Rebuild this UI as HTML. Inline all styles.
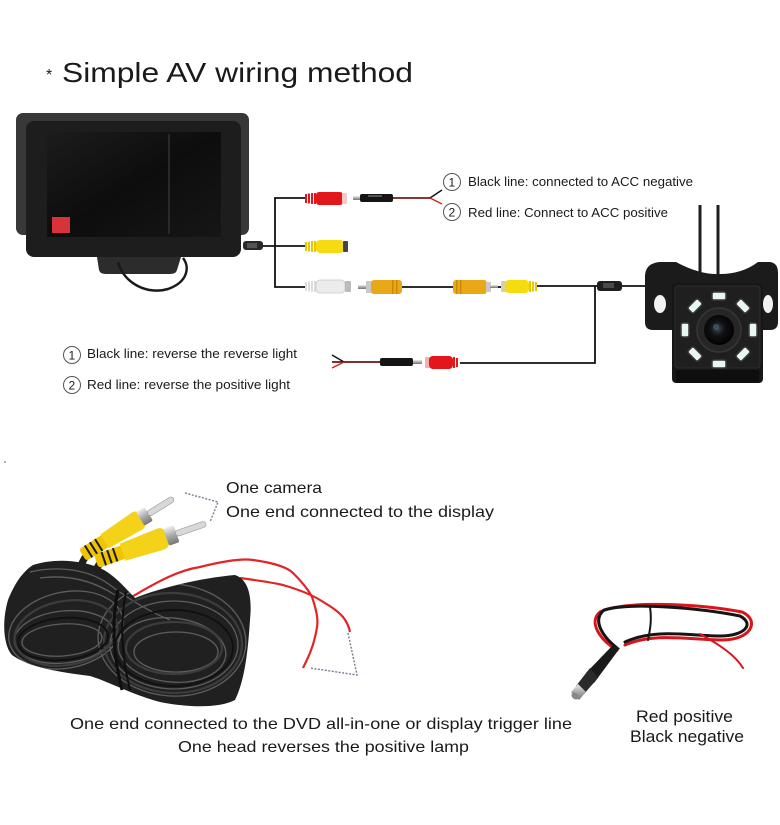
<!DOCTYPE html>
<html><head><meta charset="utf-8"><style>
html,body{margin:0;padding:0;background:#fff;}
svg{display:block;}
text{font-family:"Liberation Sans",sans-serif;fill:#1a1a1a;}
</style></head><body>
<svg width="780" height="825" viewBox="0 0 780 825" xmlns="http://www.w3.org/2000/svg">
<rect width="780" height="825" fill="#fff"/>
<defs>
<linearGradient id="scr" x1="0" y1="0" x2="1" y2="1"><stop offset="0" stop-color="#1c1c1c"/><stop offset="0.5" stop-color="#0d0d0d"/><stop offset="1" stop-color="#161616"/></linearGradient>
<linearGradient id="silver" x1="0" y1="0" x2="0" y2="1"><stop offset="0" stop-color="#eee"/><stop offset="0.5" stop-color="#aaa"/><stop offset="1" stop-color="#777"/></linearGradient>
<radialGradient id="lens" cx="0.45" cy="0.45" r="0.6"><stop offset="0" stop-color="#3a4a5a"/><stop offset="0.4" stop-color="#111"/><stop offset="1" stop-color="#000"/></radialGradient>
<clipPath id="coilclip"><path d="M33,565 C55,558 80,560 100,568 C115,575 125,588 135,598 C160,588 200,578 235,575 C250,580 252,600 250,620 C248,650 245,680 235,700 C220,708 190,708 160,702 C130,694 110,682 90,676 C60,672 30,668 12,655 C3,645 2,620 8,600 C14,585 22,572 33,565 Z"/></clipPath>
</defs>

<!-- title -->
<text x="46" y="80" font-size="16">*</text>
<text x="62" y="82" font-size="28" textLength="351" lengthAdjust="spacingAndGlyphs">Simple AV wiring method</text>

<!-- monitor -->
<rect x="16" y="113" width="233" height="122" rx="7" fill="#383838"/>
<rect x="26" y="121" width="215" height="136" rx="8" fill="#1d1d1d"/>
<rect x="47" y="132" width="174" height="105" fill="url(#scr)"/>
<rect x="168" y="134" width="2" height="100" fill="#2a2a22"/>
<rect x="52" y="217" width="18" height="16" fill="#d8323a"/>
<path d="M97,257 L181,257 L177,270 Q176,274 170,274 L106,274 Q100,274 99,270 Z" fill="#2c2c2c"/>
<path d="M118,262 C124,284 148,295 168,289 C188,282 190,267 183,258" fill="none" stroke="#1a1a1a" stroke-width="2.5"/>
<rect x="243" y="241" width="20" height="9" rx="3" fill="#2a2a2a"/>
<rect x="247" y="243" width="10" height="5" fill="#555"/>

<!-- wiring lines -->
<g stroke="#111" stroke-width="1.8" fill="none">
<path d="M263,246 L305,246"/>
<path d="M305,198 L275,198 L275,287 L305,287"/>
<path d="M402,287 L453,287"/>
<path d="M490,287 L502,287"/>
<path d="M537,286 L597,286"/>
<path d="M622,286 L650,286"/>
<path d="M595,286 L595,363 L460,363"/>
</g>
<!-- top: red female, black plug, split wire -->
<g>
<g fill="#e3161c"><rect x="305" y="194" width="2" height="9"/><rect x="308" y="193.5" width="2" height="10"/><rect x="311" y="193" width="2" height="11"/><rect x="314" y="193" width="2" height="11"/></g>
<rect x="316" y="192" width="27" height="13" rx="3" fill="#e3161c"/>
<rect x="342" y="193" width="5" height="11" rx="1" fill="#f5c9c9"/>
<rect x="353" y="196" width="8" height="4" fill="url(#silver)"/>
<rect x="360" y="194" width="33" height="8" rx="2" fill="#151515"/>
<rect x="368" y="195" width="14" height="2" fill="#555"/>
<path d="M393,198 L430,198" stroke="#7a1a1a" stroke-width="1.8"/>
<path d="M430,198 L442,190" stroke="#111" stroke-width="1.4" fill="none"/>
<path d="M430,198 L442,204" stroke="#d21" stroke-width="1.4" fill="none"/>
</g>
<!-- middle yellow female -->
<g>
<g fill="#e6c800"><rect x="305" y="242" width="2" height="9"/><rect x="308" y="241.5" width="2" height="10"/><rect x="311" y="241" width="2" height="11"/><rect x="314" y="241" width="2" height="11"/></g>
<rect x="316" y="240" width="28" height="13" rx="4" fill="#f4dc10"/>
<rect x="343" y="241" width="5" height="11" rx="1" fill="#444"/>
</g>
<!-- bottom white female -->
<g>
<g fill="#ddd"><rect x="305" y="282" width="2" height="9"/><rect x="308" y="281.5" width="2" height="10"/><rect x="311" y="281" width="2" height="11"/><rect x="314" y="281" width="2" height="11"/></g>
<rect x="316" y="280" width="29" height="13" rx="4" fill="#ececec" stroke="#c8c8c8" stroke-width="0.8"/>
<rect x="345" y="281" width="6" height="11" rx="1" fill="#bbb"/>
</g>
<!-- yellow male plug -->
<g>
<rect x="358" y="285" width="9" height="4" fill="url(#silver)"/>
<rect x="366" y="281" width="6" height="12" fill="#c9c9c9"/>
<rect x="371" y="280" width="31" height="14" rx="3" fill="#e9a818"/>
<g fill="#c98a08"><rect x="392" y="280" width="1.5" height="14"/><rect x="396" y="280" width="1.5" height="14"/></g>
</g>
<!-- yellow male plug 2 -->
<g>
<rect x="453" y="280" width="34" height="14" rx="3" fill="#e9a818"/>
<g fill="#c98a08"><rect x="456" y="280" width="1.5" height="14"/><rect x="460" y="280" width="1.5" height="14"/></g>
<rect x="486" y="282" width="5" height="10" fill="#c9c9c9"/>
<rect x="490" y="285" width="8" height="3" fill="url(#silver)"/>
</g>
<!-- yellow female 2 -->
<g>
<rect x="501" y="281" width="5" height="11" rx="1" fill="#d9d0a0"/>
<rect x="505" y="280" width="24" height="13" rx="4" fill="#f4dc10"/>
<g fill="#e6c800"><rect x="529" y="281" width="2" height="11"/><rect x="532" y="281.5" width="2" height="10"/><rect x="535" y="282" width="2" height="9"/></g>
</g>
<!-- black inline connector to camera -->
<rect x="597" y="281" width="25" height="10" rx="3" fill="#1e1e1e"/>
<rect x="603" y="283" width="11" height="5" fill="#4a4a4a"/>
<!-- lower left: red female + black plug -->
<g>
<rect x="425" y="357" width="5" height="11" rx="1" fill="#f0b0b0"/>
<rect x="429" y="356" width="24" height="13" rx="4" fill="#e3161c"/>
<g fill="#e3161c"><rect x="453" y="357" width="2" height="11"/><rect x="456" y="358" width="2" height="9"/></g>
<rect x="412" y="360" width="10" height="4" fill="url(#silver)"/>
<rect x="380" y="358" width="33" height="8" rx="2" fill="#151515"/>
<path d="M332,362 L380,362" stroke="#6a1414" stroke-width="1.8"/>
<path d="M344,362 L332,355" stroke="#111" stroke-width="1.4" fill="none"/>
<path d="M344,362 L332,368" stroke="#d21" stroke-width="1.4" fill="none"/>
</g>

<!-- top right labels -->
<circle cx="452" cy="182" r="8.5" fill="none" stroke="#555" stroke-width="1"/>
<text x="448.5" y="186.5" font-size="12">1</text>
<text x="468" y="186" font-size="12.5" textLength="225" lengthAdjust="spacingAndGlyphs">Black line: connected to ACC negative</text>
<circle cx="452" cy="212" r="8.5" fill="none" stroke="#555" stroke-width="1"/>
<text x="448.5" y="216.5" font-size="12">2</text>
<text x="468" y="217" font-size="12.5" textLength="200" lengthAdjust="spacingAndGlyphs">Red line: Connect to ACC positive</text>

<!-- left labels -->
<circle cx="72" cy="355" r="8.5" fill="none" stroke="#555" stroke-width="1"/>
<text x="68.5" y="359.5" font-size="12">1</text>
<text x="87" y="358" font-size="12.5" textLength="210" lengthAdjust="spacingAndGlyphs">Black line: reverse the reverse light</text>
<circle cx="72" cy="385" r="8.5" fill="none" stroke="#555" stroke-width="1"/>
<text x="68.5" y="389.5" font-size="12">2</text>
<text x="87" y="389" font-size="12.5" textLength="203" lengthAdjust="spacingAndGlyphs">Red line: reverse the positive light</text>

<!-- camera -->
<line x1="700" y1="205" x2="700" y2="275" stroke="#1e1e1e" stroke-width="3"/>
<line x1="718" y1="205" x2="718" y2="275" stroke="#1e1e1e" stroke-width="3"/>
<path d="M645,275 Q646,263 660,262 L676,262 Q700,275 720,274 Q742,274 758,262 L770,262 Q778,263 778,273 L778,322 Q778,330 770,330 L653,330 Q645,330 645,322 Z" fill="#1b1b1b"/>
<ellipse cx="660" cy="304" rx="6" ry="9" fill="#f2f2f2"/>
<ellipse cx="768" cy="304" rx="5" ry="9" fill="#f2f2f2"/>
<rect x="672" y="283" width="91" height="100" rx="4" fill="#171717"/>
<rect x="675" y="286" width="85" height="82" rx="3" fill="#1f1f1f" stroke="#2e2e2e" stroke-width="1"/>
<rect x="676" y="370" width="83" height="13" rx="2" fill="#0e0e0e"/>
<circle cx="719" cy="330" r="22" fill="#262626" stroke="#363636" stroke-width="1.5"/>
<circle cx="719" cy="330" r="15" fill="url(#lens)"/>
<circle cx="716" cy="327" r="3" fill="#4a5a6a" opacity="0.7"/>
<g fill="#e8f7f2" stroke="#3a3a3a" stroke-width="1.5">
<rect x="712" y="292" width="14" height="8" rx="2"/>
<rect x="712" y="360" width="14" height="8" rx="2"/>
<rect x="681" y="323" width="8" height="14" rx="2"/>
<rect x="749" y="323" width="8" height="14" rx="2"/>
<rect x="688" y="302" width="14" height="8" rx="2" transform="rotate(-45 695 306)"/>
<rect x="736" y="302" width="14" height="8" rx="2" transform="rotate(45 743 306)"/>
<rect x="688" y="350" width="14" height="8" rx="2" transform="rotate(45 695 354)"/>
<rect x="736" y="350" width="14" height="8" rx="2" transform="rotate(-45 743 354)"/>
</g>

<!-- tiny dot -->
<circle cx="5" cy="462" r="1" fill="#999"/>

<!-- red wires -->
<g fill="none" stroke="#e22424" stroke-width="2.2">
<path d="M130,598 C160,580 180,570 200,567 C220,562 240,558 253,560 C275,563 288,568 293,573 C305,585 312,595 313,600 C318,615 318,622 317,627 C315,640 312,648 310,653 C307,660 305,664 303,668"/>
<path d="M240,578 C255,580 270,582 283,585 C300,590 312,595 320,600 C330,606 338,611 343,617 C347,622 349,627 350,632"/>
</g>

<!-- cables up to plugs -->
<path d="M86,556 C80,565 78,572 80,585" stroke="#1e1e1e" stroke-width="7" fill="none"/>
<path d="M100,563 C94,572 92,580 95,592" stroke="#1e1e1e" stroke-width="7" fill="none"/>

<!-- lower cable coil -->
<path d="M33,565 C55,558 80,560 100,568 C115,575 125,588 135,598 C160,588 200,578 235,575 C250,580 252,600 250,620 C248,650 245,680 235,700 C220,708 190,708 160,702 C130,694 110,682 90,676 C60,672 30,668 12,655 C3,645 2,620 8,600 C14,585 22,572 33,565 Z" fill="#202020"/>
<g clip-path="url(#coilclip)" fill="none">
<g stroke="#5e5e5e" stroke-width="1.3">
<ellipse cx="66" cy="630" rx="58" ry="38" transform="rotate(-12 66 630)"/>
<ellipse cx="64" cy="637" rx="50" ry="26" transform="rotate(-6 64 637)"/>
<ellipse cx="62" cy="640" rx="40" ry="16" transform="rotate(-4 62 640)"/>
<ellipse cx="172" cy="640" rx="74" ry="56" transform="rotate(4 172 640)"/>
<ellipse cx="174" cy="645" rx="64" ry="44"/>
<ellipse cx="172" cy="650" rx="54" ry="32" transform="rotate(6 172 650)"/>
<ellipse cx="176" cy="652" rx="42" ry="20"/>
<path d="M30,572 C60,565 90,570 110,585 C130,600 150,612 170,620"/>
<path d="M40,578 C70,574 95,582 115,595"/>
</g>
<g stroke="#3c3c3c" stroke-width="2.2">
<ellipse cx="66" cy="633" rx="52" ry="32" transform="rotate(-10 66 633)"/>
<ellipse cx="173" cy="643" rx="69" ry="50" transform="rotate(2 173 643)"/>
<ellipse cx="174" cy="648" rx="48" ry="26"/>
</g>
<g stroke="#111" stroke-width="2">
<ellipse cx="63" cy="639" rx="45" ry="21" transform="rotate(-5 63 639)"/>
<ellipse cx="174" cy="648" rx="59" ry="38"/>
</g>
</g>
<path d="M118,590 C112,620 112,650 122,690" stroke="#0e0e0e" stroke-width="3" fill="none"/>
<path d="M126,592 C120,622 121,652 130,690" stroke="#0e0e0e" stroke-width="2" fill="none"/>

<!-- RCA plugs (photo) -->
<g transform="translate(86,553) rotate(-32)">
<rect x="-4" y="-7" width="28" height="14" rx="3" fill="#f0c400"/>
<g fill="#1a1a1a"><rect x="2" y="-7" width="2" height="14"/><rect x="8" y="-7" width="2" height="14"/><rect x="14" y="-7" width="2" height="14"/></g>
<path d="M22,-8 L60,-10 Q66,-10 66,-4 L66,4 Q66,10 60,10 L22,8 Z" fill="#f5d21a"/>
<rect x="64" y="-8" width="10" height="16" rx="2" fill="url(#silver)"/>
<rect x="73" y="-3" width="30" height="6" rx="3" fill="#d8d8d8" stroke="#999" stroke-width="0.6"/>
</g>
<g transform="translate(100,560) rotate(-19)">
<rect x="-4" y="-7" width="30" height="14" rx="3" fill="#f0c400"/>
<g fill="#1a1a1a"><rect x="3" y="-7" width="2" height="14"/><rect x="9" y="-7" width="2" height="14"/><rect x="15" y="-7" width="2" height="14"/></g>
<path d="M24,-9 L64,-11 Q71,-11 71,-4 L71,4 Q71,11 64,11 L24,9 Z" fill="#f5d21a"/>
<rect x="70" y="-9" width="11" height="18" rx="2" fill="url(#silver)"/>
<rect x="80" y="-3" width="32" height="6" rx="3" fill="#d8d8d8" stroke="#999" stroke-width="0.6"/>
</g>

<!-- dashed brackets -->
<g fill="none" stroke="#7a7a92" stroke-width="1.4" stroke-dasharray="2,1.5">
<path d="M185,493 L218,502 L210,522"/>
<path d="M348,633 L357,675 L310,668"/>
</g>

<text x="226" y="493" font-size="16" textLength="96" lengthAdjust="spacingAndGlyphs">One camera</text>
<text x="226" y="517" font-size="16" textLength="268" lengthAdjust="spacingAndGlyphs">One end connected to the display</text>
<text x="70" y="729" font-size="16" textLength="502" lengthAdjust="spacingAndGlyphs">One end connected to the DVD all-in-one or display trigger line</text>
<text x="178" y="752" font-size="16" textLength="291" lengthAdjust="spacingAndGlyphs">One head reverses the positive lamp</text>

<!-- DC cable right -->
<g fill="none" stroke-linecap="round">
<path d="M617,650 C600,640 588,622 600,612 C625,600 700,604 742,612 C760,620 752,640 722,640 C690,640 655,632 625,645" stroke="#d8141c" stroke-width="3"/>
<path d="M617,648 C602,636 592,620 604,610 C630,602 700,608 740,616 C755,624 745,636 720,636 C690,636 655,628 625,642" stroke="#151515" stroke-width="3"/>
<path d="M700,634 C720,645 735,655 743,668" stroke="#d8141c" stroke-width="2"/>
<path d="M650,607 C652,620 650,630 648,640" stroke="#151515" stroke-width="2"/>
</g>
<path d="M620,648 L612,646 L586,673 L594,683 Z" fill="#1a1a1a"/>
<path d="M590,668 L598,678 L584,694 L576,686 Z" fill="#2a2a2a"/>
<path d="M578,684 L586,692 L579,700 L571,692 Z" fill="url(#silver)"/>
<ellipse cx="575" cy="696" rx="4" ry="3" fill="#888" transform="rotate(45 575 696)"/>

<text x="636" y="722" font-size="16.5" textLength="97" lengthAdjust="spacingAndGlyphs">Red positive</text>
<text x="630" y="742" font-size="16.5" textLength="114" lengthAdjust="spacingAndGlyphs">Black negative</text>
</svg>
</body></html>
